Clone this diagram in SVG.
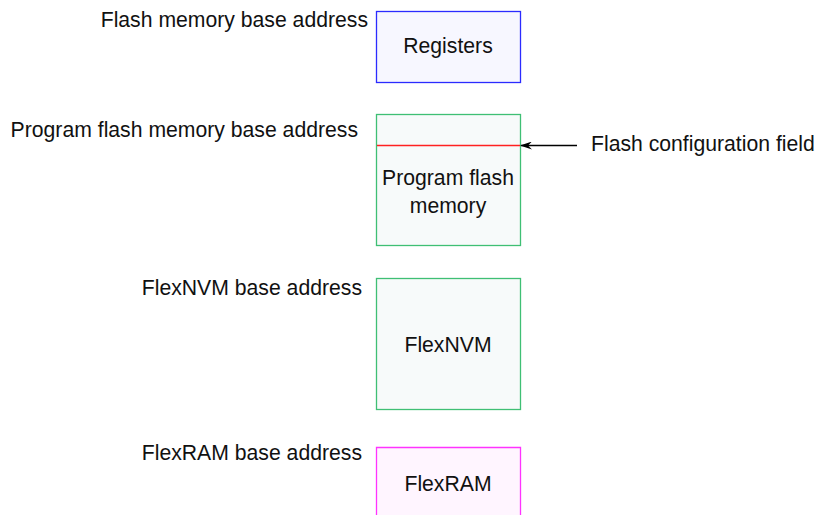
<svg xmlns="http://www.w3.org/2000/svg" width="817" height="515" viewBox="0 0 817 515">
<style>
text{font-family:"Liberation Sans",Arial,sans-serif;font-size:21.2px;fill:#111}
.lbl{text-anchor:end}
.c{text-anchor:middle}
.box{stroke-width:1.3}
</style>
<defs>
<marker id="ah" markerWidth="12" markerHeight="8" refX="11" refY="4" orient="auto" markerUnits="userSpaceOnUse">
<path d="M0,0 L12,4 L0,8 L4,4 Z" fill="#000"/>
</marker>
</defs>
<rect width="817" height="515" fill="#fff"/>
<g id="registers">
<rect class="box" x="376.5" y="11.5" width="144" height="71" fill="#f7f7ff" stroke="#2b2bff"/>
<text class="c" x="448" y="53">Registers</text>
<text class="lbl" x="368" y="27">Flash memory base address</text>
</g>
<g id="program-flash">
<rect class="box" x="376.5" y="114.5" width="144" height="131" fill="#f7fafa" stroke="#3fbf74"/>
<line x1="377" y1="145.5" x2="520" y2="145.5" stroke="#ff2020" stroke-width="1.3"/>
<text class="c" x="448" y="185">Program flash</text>
<text class="c" x="448" y="213">memory</text>
<text class="lbl" x="358" y="137">Program flash memory base address</text>
</g>
<g id="flexnvm">
<rect class="box" x="376.5" y="278.5" width="144" height="131" fill="#f7fafa" stroke="#3fbf74"/>
<text class="c" x="448" y="352">FlexNVM</text>
<text class="lbl" x="362" y="295">FlexNVM base address</text>
</g>
<g id="flexram">
<path class="box" d="M376.5,518 V447.5 H520.5 V518" fill="#fff5ff" stroke="#ff33ff"/>
<text class="c" x="448" y="491">FlexRAM</text>
<text class="lbl" x="362" y="460">FlexRAM base address</text>
</g>
<g id="flash-config">
<text x="591" y="151">Flash configuration field</text>
</g>
<g id="connectors">
<line x1="577" y1="145.5" x2="521" y2="145.5" stroke="#000" stroke-width="1.3" marker-end="url(#ah)"/>
</g>
</svg>
